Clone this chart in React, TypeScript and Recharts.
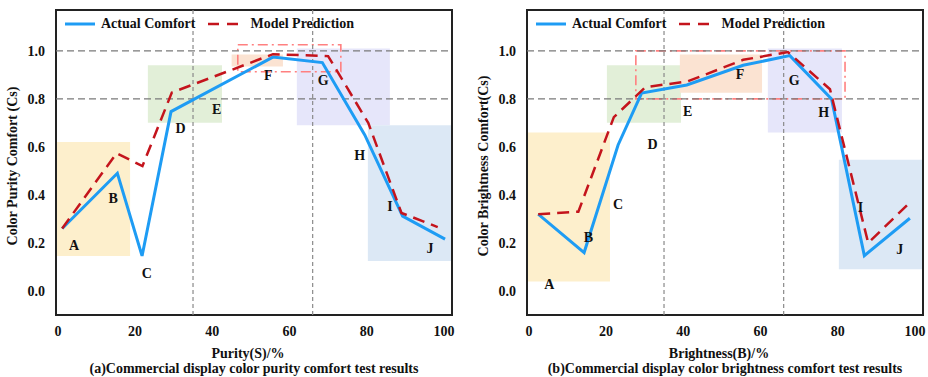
import {
  LineChart,
  Line,
  XAxis,
  YAxis,
  ReferenceArea,
  ReferenceLine,
  ReferenceDot,
} from "recharts";

const FONT = '"Liberation Serif", "Times New Roman", serif';

const xTicks = [0, 20, 40, 60, 80, 100];
const yTicks = [0, 0.2, 0.4, 0.6, 0.8, 1.0];
const vGuides = [35, 66];
const hGuides = [0.8, 1.0];
const pointNames = ["A", "B", "C", "D", "E", "F", "G", "H", "I", "J"];

// (a) purity
const purityActualX = [1.1, 15.4, 21.8, 29.3, 55.7, 68.5, 79.5, 89.3, 100.3];
const purityActualY = [0.26, 0.49, 0.146, 0.747, 0.974, 0.951, 0.65, 0.312, 0.216];
const purityModelX = [1.1, 15.2, 21.9, 29.5, 55.7, 70, 80.4, 89, 98.4];
const purityModelY = [0.26, 0.574, 0.52, 0.826, 0.986, 0.978, 0.7, 0.325, 0.266];
const purityLabelX = [4.2, 14.3, 23, 31.8, 41.1, 54.5, 68.7, 78.2, 86, 96.4];
const purityLabelY = [0.19, 0.386, 0.076, 0.678, 0.757, 0.9, 0.879, 0.567, 0.354, 0.178];

// (b) brightness
const brightActualX = [2.4, 14.3, 23.1, 29.2, 40.9, 55.5, 67.6, 78.4, 86.9, 98.7];
const brightActualY = [0.32, 0.16, 0.608, 0.824, 0.858, 0.94, 0.98, 0.8, 0.147, 0.303];
const brightModelX = [2.4, 12.8, 22, 30.2, 41, 55.5, 67.1, 78, 87.9, 98.3];
const brightModelY = [0.32, 0.33, 0.724, 0.849, 0.872, 0.9625, 0.995, 0.84, 0.2, 0.3625];
const brightLabelX = [5.3, 15.4, 23.1, 32, 41.1, 54.7, 68.7, 76.4, 85.9, 96.1];
const brightLabelY = [0.028, 0.226, 0.3625, 0.6125, 0.751, 0.903, 0.879, 0.747, 0.351, 0.174];

// shaded groups: [x1, x2, y1, y2]
const purityZones = [
  [-0.5, 18.7, 0.146, 0.62],
  [23.3, 42.5, 0.7, 0.94],
  [45, 58.3, 0.935, 0.985],
  [61.9, 86, 0.69, 1.01],
  [80.3, 102.1, 0.125, 0.69],
];
const purityDashBox = [46.6, 73.3, 0.913, 1.025];
const brightZones = [
  [-0.5, 21, 0.04, 0.66],
  [20.2, 39.4, 0.7, 0.94],
  [39.1, 60.4, 0.825, 0.985],
  [61.9, 81.1, 0.66, 1.01],
  [80.3, 102.1, 0.09, 0.546],
];
const brightDashBox = [27.7, 81.9, 0.8, 1.0];

const zoneColors = ["#fdefcc", "#e2efd8", "#fbe3d2", "#e6e6fa", "#dce8f5"];

const X_DOMAIN = [-0.5, 102.1];
const Y_DOMAIN = [-0.1, 1.17];

const toRows = (xs: number[], ys: number[]) => xs.map((x, i) => ({ x, y: ys[i] }));

const tickStyle = { fontSize: 14, fontWeight: 700, fill: "#111", fontFamily: FONT };

interface PanelProps {
  left: number;
  yAxisWidth: number;
  marginRight: number;
  actualX: number[];
  actualY: number[];
  modelX: number[];
  modelY: number[];
  labelX: number[];
  labelY: number[];
  zones: number[][];
  dashBox: number[];
  yTitle: string;
  yTitleX: number;
  xTitle: string;
  caption: string;
}

function Panel(p: PanelProps) {
  const actual = toRows(p.actualX, p.actualY);
  const model = toRows(p.modelX, p.modelY);
  const plotLeft = p.yAxisWidth;
  const plotRight = 464 - p.marginRight;
  const center = (plotLeft + plotRight) / 2;

  return (
    <div style={{ position: "absolute", left: p.left, top: 0, width: 464, height: 377 }}>
      <LineChart
        width={464}
        height={377}
        margin={{ top: 10, right: p.marginRight, left: 0, bottom: 32 }}
      >
        {p.zones.map((z, i) => (
          <ReferenceArea
            key={`zone-${i}`}
            x1={z[0]}
            x2={z[1]}
            y1={z[2]}
            y2={z[3]}
            fill={zoneColors[i]}
            fillOpacity={1}
            stroke="none"
          />
        ))}
        <ReferenceArea
          x1={p.dashBox[0]}
          x2={p.dashBox[1]}
          y1={p.dashBox[2]}
          y2={p.dashBox[3]}
          fill="none"
          stroke="#ff8080"
          strokeWidth={1.6}
          strokeDasharray="10 4 2 4"
        />
        {hGuides.map((v) => (
          <ReferenceLine key={`h-${v}`} y={v} stroke="#7a7a7a" strokeWidth={1.3} strokeDasharray="7 4" />
        ))}
        {vGuides.map((v) => (
          <ReferenceLine key={`v-${v}`} x={v} stroke="#8a8a8a" strokeWidth={1.2} strokeDasharray="4 3" />
        ))}
        <ReferenceArea
          x1={X_DOMAIN[0]}
          x2={X_DOMAIN[1]}
          y1={Y_DOMAIN[0]}
          y2={Y_DOMAIN[1]}
          fill="none"
          stroke="#222"
          strokeWidth={2}
        />
        <XAxis
          dataKey="x"
          type="number"
          domain={X_DOMAIN}
          ticks={xTicks}
          allowDataOverflow
          axisLine={false}
          tickLine={false}
          tickMargin={5}
          height={30}
          tick={tickStyle}
        />
        <YAxis
          type="number"
          domain={Y_DOMAIN}
          ticks={yTicks}
          allowDataOverflow
          axisLine={false}
          tickLine={false}
          tickMargin={5}
          width={p.yAxisWidth}
          tick={tickStyle}
          tickFormatter={(v: number) => v.toFixed(1)}
        />
        <Line
          data={actual}
          dataKey="y"
          type="linear"
          stroke="#1e9cf4"
          strokeWidth={3}
          dot={false}
          isAnimationActive={false}
        />
        <Line
          data={model}
          dataKey="y"
          type="linear"
          stroke="#c4141c"
          strokeWidth={2.5}
          strokeDasharray="12 7"
          dot={false}
          isAnimationActive={false}
        />
        {pointNames.map((n, i) => (
          <ReferenceDot
            key={`lbl-${n}`}
            x={p.labelX[i]}
            y={p.labelY[i]}
            r={0}
            fill="none"
            stroke="none"
            label={{
              value: n,
              position: "center",
              fill: "#111",
              fontSize: 14,
              fontWeight: 700,
              fontFamily: FONT,
            }}
          />
        ))}
      </LineChart>

      <div
        style={{
          position: "absolute",
          left: plotLeft + 9,
          top: 16,
          display: "flex",
          alignItems: "center",
          fontFamily: FONT,
          fontWeight: 700,
          fontSize: 14,
          color: "#111",
          whiteSpace: "nowrap",
        }}
      >
        <svg width={30} height={6}>
          <line x1={0} y1={3} x2={30} y2={3} stroke="#1e9cf4" strokeWidth={3} />
        </svg>
        <span style={{ marginLeft: 6 }}>Actual Comfort</span>
        <svg width={36} height={6} style={{ marginLeft: 13 }}>
          <line x1={0} y1={3} x2={36} y2={3} stroke="#c4141c" strokeWidth={2.5} strokeDasharray="11 8" />
        </svg>
        <span style={{ marginLeft: 6 }}>Model Prediction</span>
      </div>

      <div
        style={{
          position: "absolute",
          left: p.yTitleX,
          top: 166,
          transform: "translate(-50%, -50%) rotate(-90deg)",
          fontFamily: FONT,
          fontWeight: 700,
          fontSize: 14,
          color: "#111",
          whiteSpace: "nowrap",
        }}
      >
        {p.yTitle}
      </div>
      <div
        style={{
          position: "absolute",
          left: center - 6,
          top: 354,
          transform: "translate(-50%, -50%)",
          fontFamily: FONT,
          fontWeight: 700,
          fontSize: 14,
          color: "#111",
          whiteSpace: "nowrap",
        }}
      >
        {p.xTitle}
      </div>
      <div
        style={{
          position: "absolute",
          left: center,
          top: 369,
          transform: "translate(-50%, -50%)",
          fontFamily: FONT,
          fontWeight: 700,
          fontSize: 14,
          color: "#111",
          whiteSpace: "nowrap",
        }}
      >
        {p.caption}
      </div>
    </div>
  );
}

export default function App() {
  return (
    <div style={{ position: "absolute", left: 0, top: 0, width: 928, height: 377, background: "#fff" }}>
      <Panel
        left={0}
        yAxisWidth={56}
        marginRight={12}
        actualX={purityActualX}
        actualY={purityActualY}
        modelX={purityModelX}
        modelY={purityModelY}
        labelX={purityLabelX}
        labelY={purityLabelY}
        zones={purityZones}
        dashBox={purityDashBox}
        yTitle="Color Purity Comfort (Cs)"
        yTitleX={13}
        xTitle="Purity(S)/%"
        caption="(a)Commercial display color purity comfort test results"
      />
      <Panel
        left={464}
        yAxisWidth={63}
        marginRight={5}
        actualX={brightActualX}
        actualY={brightActualY}
        modelX={brightModelX}
        modelY={brightModelY}
        labelX={brightLabelX}
        labelY={brightLabelY}
        zones={brightZones}
        dashBox={brightDashBox}
        yTitle="Color Brightness Comfort(Cs)"
        yTitleX={20}
        xTitle="Brightness(B)/%"
        caption="(b)Commercial display color brightness comfort test results"
      />
    </div>
  );
}
